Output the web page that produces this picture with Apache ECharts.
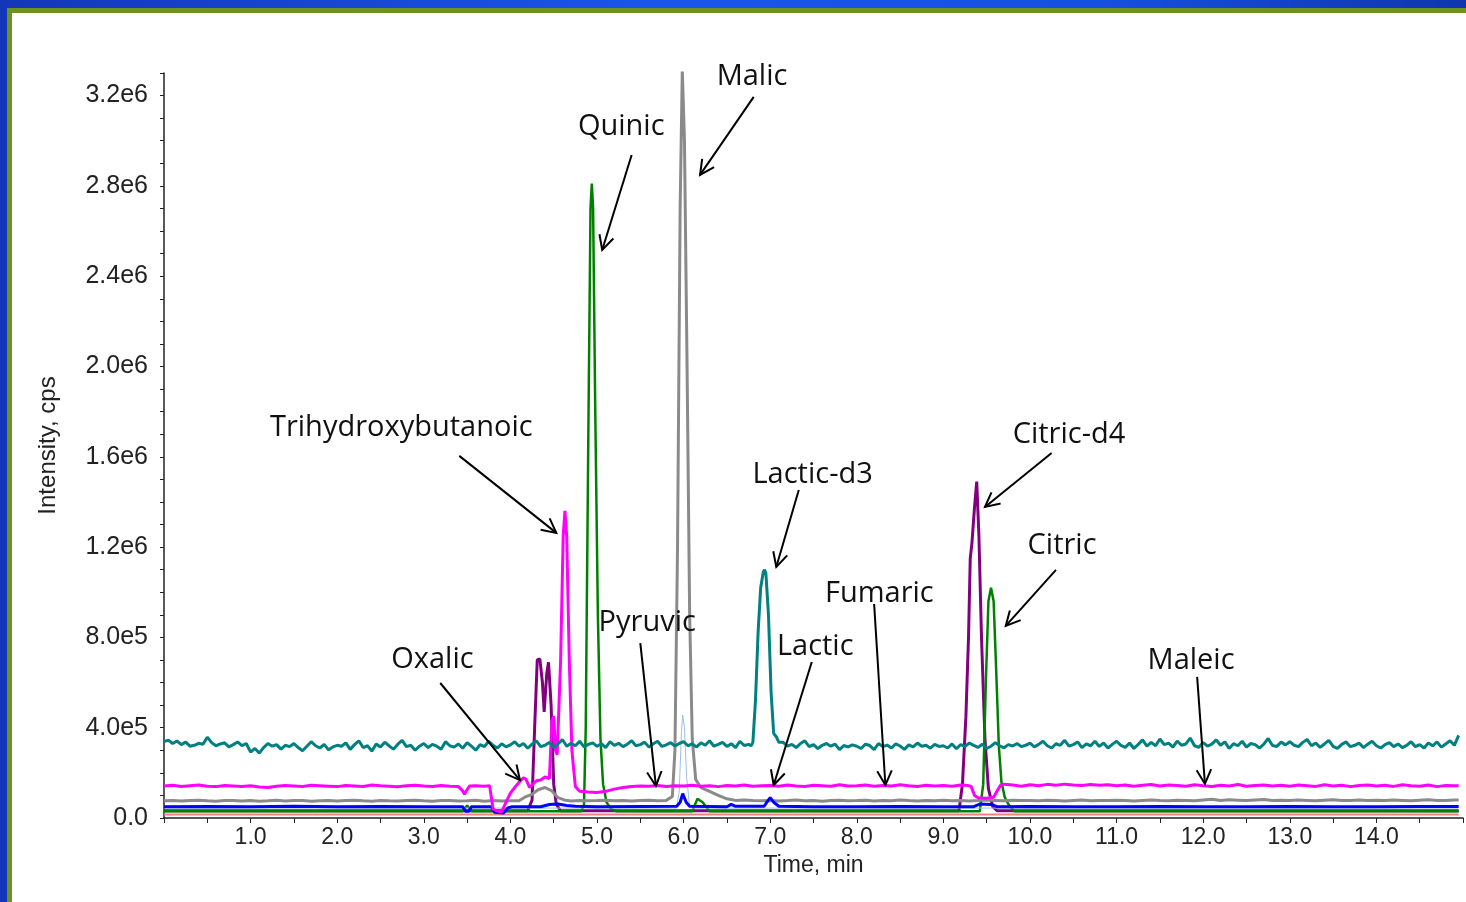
<!DOCTYPE html>
<html>
<head>
<meta charset="utf-8">
<script src="https://cdn.jsdelivr.net/npm/echarts@6/dist/echarts.min.js"></script>
<style>
html,body{margin:0;padding:0;width:1466px;height:902px;overflow:hidden;}
body{background:linear-gradient(90deg,#1437b9 0%,#1a56ea 45%,#1650e0 75%,#0f36ad 100%);}
#olive{position:absolute;left:7px;top:8px;right:0;bottom:0;background:#6f931f;}
#white{position:absolute;left:12px;top:13px;right:0;bottom:0;background:#ffffff;}
#chart{position:absolute;left:0;top:0;width:1466px;height:902px;}
</style>
</head>
<body>
<div id="olive"></div>
<div id="white"></div>
<div id="chart"></div>
<script>
// ---------------- DATA (intensity in kcps, time in min) ----------------
// Teal (Lactic-d3 trace) baseline, every 0.05 min from 0.00
const tealBase = [
338,345,330,341,325,336,318,322,331,327,358,334,320,328,333,315,325,337,321,330,
292,308,288,312,330,318,325,305,322,316,330,312,298,318,338,320,310,326,302,315,
322,318,333,304,325,342,312,320,296,328,315,336,319,305,327,344,316,322,300,318,
330,312,326,318,305,338,320,314,328,309,334,318,300,325,316,340,322,310,329,315,
324,338,318,330,309,327,342,316,322,335,312,328,348,318,331,320,340,315,326,333,
318,329,312,338,322,331,316,327,342,320,325,336,314,329,340,317,324,334,319,330,
338,320,328,315,333,322,342,318,326,335,317,329,312,340,321,326,332,315,325,320,
338,330,322,335,318,326,312,330,342,316,325,307,322,330,318,327,303,321,315,324,
318,308,327,321,303,330,316,323,310,328,319,304,324,315,332,318,322,309,326,317,
320,310,328,307,325,317,332,322,313,327,308,318,334,320,311,325,319,330,316,322,
332,315,326,340,320,310,329,322,344,318,325,337,312,328,320,340,317,332,310,326,
340,322,313,332,308,326,346,318,335,320,350,325,332,314,341,322,328,354,320,313,
334,318,327,346,322,337,308,329,320,340,314,330,325,310,327,352,321,317,336,324,
338,322,316,335,348,320,332,313,328,344,317,308,326,337,316,322,332,312,327,340,
320,310,325,334,316,328,312,322,338,316,325,310,332,320,337,314,328,342,322,366
];
const tealPeak = [[6.78,320],[6.80,335],[6.83,520],[6.86,820],[6.89,1020],[6.92,1090],[6.935,1100],[6.95,1085],[6.98,900],[7.01,560],[7.04,375],[7.07,360],[7.10,335]];

// Magenta (Trihydroxybutanoic / Oxalic / Pyruvic / Fumaric / Maleic trace), every 0.1 min
const magentaBase = [
142,145,140,143,146,141,139,144,142,140,
143,137,135,141,144,142,140,145,143,141,
139,144,142,140,146,143,141,138,143,145,
142,140,144,141,139,143,143,141,142,140,
140,142,140,142,140,142,140,142,140,142,
140,142,140,142,140,142,141,144,140,143,
142,145,141,143,139,144,142,146,141,143,
144,141,146,142,140,145,143,141,147,142,
143,146,141,144,142,147,143,140,145,142,
144,141,146,143,145,142,140,144,146,141,
147,143,149,145,150,146,144,148,145,147,
143,146,141,145,148,142,146,144,141,147,
143,140,145,142,148,141,144,146,142,145,
141,146,143,140,147,142,145,139,144,146,
142,145,140,147,143,141,146,139,144,143
];
const magentaDip = [[3.42,142],[3.45,120],[3.47,105],[3.50,125],[3.53,142]];
const magentaPeaks = [[3.76,143],[3.78,140],[3.80,40],[3.85,30],[3.90,28],[3.95,70],[4.00,110],[4.05,135],[4.10,158],[4.15,178],[4.18,172],[4.22,135],[4.26,150],[4.30,165],[4.35,168],[4.40,182],[4.45,175],[4.48,430],[4.50,450],[4.52,300],[4.54,280],[4.58,700],[4.61,1250],[4.63,1360],[4.65,1250],[4.68,700],[4.71,300],[4.75,140],[4.80,118],[4.90,115],[5.00,113],[5.10,118],[5.20,128],[5.30,135],[5.40,140],[5.50,142]];
const magentaCitric = [[9.28,144],[9.32,140],[9.36,100],[9.40,90],[9.50,88],[9.58,92],[9.62,120],[9.66,145],[9.70,150]];

// Grey (Malic trace), every 0.1 min
const greyBase = [
76,78,75,77,79,76,74,77,78,75,
77,74,76,79,75,77,78,74,76,78,
75,77,79,76,74,78,76,75,77,79,
76,74,77,78,75,76,79,74,77,75,
76,78,75,77,79,76,77,75,78,76,
77,79,76,78,75,77,79,76,78,77,
80,78,76,79,77,75,78,80,77,76,
78,75,77,80,76,78,74,77,79,76,
77,79,75,78,76,80,77,75,78,76,
79,76,78,75,77,80,78,76,79,77,
78,76,79,77,75,78,80,76,78,77,
79,77,75,78,80,77,76,79,78,76,
80,83,78,81,79,77,80,82,78,79,
77,80,78,76,79,81,78,77,80,78,
79,77,80,78,76,79,81,78,77,80
];
const greyBump = [[4.10,76],[4.18,95],[4.25,105],[4.32,125],[4.40,135],[4.48,120],[4.55,90],[4.62,80]];
const greyMalic = [[5.82,80],[5.87,95],[5.90,300],[5.93,1200],[5.96,2700],[5.985,3310],[6.01,3000],[6.04,2000],[6.07,900],[6.10,350],[6.14,170],[6.20,135],[6.30,118],[6.40,100],[6.50,85],[6.60,78]];

// Light blue thin trace, every 1 min
const lightBase = [44,44,44,44,44,44,44,44,44,44,44,44,44,44,44];
const lightPeak = [[5.92,44],[5.95,120],[5.975,380],[5.99,456],[6.01,400],[6.035,180],[6.07,50],[6.10,44]];

// Green (Quinic / Citric trace), every 1 min
const greenBase = [30,30,30,30,30,30,30,30,30,30,30,30,30,30,30];
const greenSmall = [[3.45,30],[3.50,55],[3.55,30]];
const greenQuinic = [[4.82,30],[4.85,60],[4.87,400],[4.90,1700],[4.925,2700],[4.94,2810],[4.955,2700],[4.98,1800],[5.01,900],[5.04,350],[5.07,150],[5.11,70],[5.16,40],[5.22,30]];
const greenBump = [[6.10,30],[6.16,85],[6.22,70],[6.30,30]];
const greenCitric = [[9.42,30],[9.46,150],[9.49,600],[9.52,960],[9.55,1020],[9.58,960],[9.61,650],[9.64,320],[9.67,160],[9.71,90],[9.76,55],[9.82,30]];

// Purple (twin early peaks / Citric-d4 trace), every 1 min
const purpleBase = [32,32,32,32,32,32,32,32,32,32,32,32,32,32,32];
const purpleTwin = [[4.20,32],[4.25,80],[4.28,400],[4.31,700],[4.34,705],[4.37,600],[4.39,470],[4.42,640],[4.44,690],[4.47,500],[4.50,150],[4.53,60],[4.58,32]];
const purpleCitricD4 = [[9.18,32],[9.22,150],[9.26,450],[9.29,800],[9.31,1150],[9.33,1220],[9.36,1380],[9.385,1490],[9.41,1250],[9.44,800],[9.48,350],[9.52,130],[9.57,50],[9.62,32]];

// Blue (Lactic trace), every 0.5 min
const blueBase = [50,51,50,52,50,51,50,50,51,50,50,51,50,50,51,50,50,51,50,50,51,50,50,51,50,50,51,50,50,51];
const blueSegs = [
  [[3.45,50],[3.48,30],[3.52,30],[3.55,50]],
  [[3.78,50],[3.82,25],[3.92,22],[3.97,45],[4.02,50]],
  [[4.35,50],[4.45,60],[4.55,62],[4.65,55],[4.75,52]],
  [[5.92,52],[5.96,70],[5.99,108],[6.03,70],[6.07,52]],
  [[6.50,50],[6.55,60],[6.60,52]],
  [[6.93,52],[6.97,75],[7.00,90],[7.04,70],[7.10,52]],
  [[9.35,50],[9.42,62],[9.55,60],[9.62,50]]
];

// Salmon bottom trace, every 1 min
const salmonBase = [16,16,16,16,16,16,16,16,16,16,16,16,16,16,16];

// Peak labels and their placement (time, kcps)
const peakLabels = ['Malic','Quinic','Trihydroxybutanoic','Oxalic','Pyruvic','Lactic-d3','Lactic','Fumaric','Citric-d4','Citric','Maleic'];
const labelLayout = [
  {text:[6.79,3285], from:[6.81,3194], to:[6.19,2849]},
  {text:[5.28,3063], from:[5.40,2937], to:[5.06,2516]},
  {text:[2.74,1730], from:[3.41,1604], to:[4.53,1263]},
  {text:[3.10,702],  from:[3.19,598],  to:[4.11,168]},
  {text:[5.58,866],  from:[5.50,775],  to:[5.68,142]},
  {text:[7.49,1522], from:[7.33,1453], to:[7.07,1112]},
  {text:[7.52,760],  from:[7.48,691],  to:[7.04,146]},
  {text:[8.26,995],  from:[8.20,948],  to:[8.33,146]},
  {text:[10.45,1699],from:[10.25,1617],to:[9.48,1378]},
  {text:[10.37,1207],from:[10.30,1099],to:[9.72,851]},
  {text:[11.86,698], from:[11.93,625], to:[12.02,151]}
];

// ---------------- BUILD ----------------
function build(step, base, segs) {
  let pts = base.map((v, i) => [Math.round(i * step * 1000) / 1000, v]);
  segs.forEach(seg => {
    const a = seg[0][0], b = seg[seg.length - 1][0];
    pts = pts.filter(p => p[0] < a || p[0] > b).concat(seg);
  });
  pts.sort((p, q) => p[0] - q[0]);
  return pts.map(p => [p[0], p[1] * 1000]);
}
function endAt(pts, t) {
  const last = pts[pts.length - 1];
  if (last[0] < t) pts.push([t, last[1]]);
  return pts;
}
const T_END = 14.95;
const traces = [
  {color:'#f08080', width:2,   data:endAt(build(1, salmonBase, []), T_END)},
  {color:'#800080', width:3,   data:endAt(build(1, purpleBase, [purpleTwin, purpleCitricD4]), T_END)},
  {color:'#008000', width:2.5, data:endAt(build(1, greenBase, [greenSmall, greenQuinic, greenBump, greenCitric]), T_END)},
  {color:'#8a8a8a', width:3,   data:endAt(build(0.1, greyBase, [greyBump, greyMalic]), T_END)},
  {color:'#9fbfe3', width:1,   data:endAt(build(1, lightBase, [lightPeak]), T_END)},
  {color:'#0000ff', width:3,   data:endAt(build(0.5, blueBase, blueSegs), T_END)},
  {color:'#ff00ff', width:3,   data:endAt(build(0.1, magentaBase, [magentaDip, magentaPeaks, magentaCitric]), T_END)},
  {color:'#008080', width:3,   data:build(0.05, tealBase, [tealPeak])}
];

const chart = echarts.init(document.getElementById('chart'), null, {renderer:'canvas'});
const labelFont = '"Liberation Sans", Arial, sans-serif';
const option = {
  backgroundColor: 'transparent',
  animation: false,
  grid: {left:164, right:1, top:73, bottom:84, containLabel:false},
  xAxis: {
    type:'value', min:0, max:15, interval:0.5,
    name:'Time, min', nameLocation:'middle', nameGap:33,
    nameTextStyle:{fontFamily:labelFont, fontSize:23, color:'#222'},
    axisLine:{show:true, onZero:false, lineStyle:{color:'#222', width:1.5}},
    axisTick:{show:true, inside:false, length:5, lineStyle:{color:'#222', width:1}},
    axisLabel:{
      margin:8, fontFamily:labelFont, fontSize:23, color:'#222',
      formatter: v => (Math.abs(v - Math.round(v)) < 1e-6 && v >= 1 && v <= 14) ? v.toFixed(1) : ''
    },
    splitLine:{show:false}
  },
  yAxis: {
    type:'value', min:0, max:3300000, interval:100000,
    name:'Intensity, cps', nameLocation:'middle', nameGap:104, nameRotate:90,
    nameTextStyle:{fontFamily:labelFont, fontSize:24, color:'#222'},
    axisLine:{show:true, onZero:false, lineStyle:{color:'#222', width:1.5}},
    axisTick:{show:true, inside:false, length:4, lineStyle:{color:'#222', width:1}},
    axisLabel:{
      margin:16, fontFamily:labelFont, fontSize:25, color:'#222',
      formatter: v => {
        const k = Math.round(v / 100000);
        if (k % 4 !== 0) return '';
        if (k === 0) return '0.0';
        return v < 1e6 ? (v / 1e5).toFixed(1) + 'e5' : (v / 1e6).toFixed(1) + 'e6';
      }
    },
    splitLine:{show:false}
  },
  series: traces.map(tr => ({
    type:'line', data:tr.data, showSymbol:false, symbol:'none', smooth:false,
    clip:true, lineStyle:{color:tr.color, width:tr.width}, itemStyle:{color:tr.color},
    emphasis:{disabled:true}
  }))
};
chart.setOption(option);

// annotations (text + open-headed arrows), positioned through the chart's own scales
const px = p => chart.convertToPixel({gridIndex:0}, [p[0], p[1] * 1000]);
const graphics = [];
const HEAD = 16, ANG = 27 * Math.PI / 180;
peakLabels.forEach((name, i) => {
  const L = labelLayout[i];
  const tp = px(L.text), a = px(L.from), b = px(L.to);
  graphics.push({type:'text', z:100, style:{text:name, x:tp[0], y:tp[1], fill:'#111',
    font:'29px "Open Sans", Lato, sans-serif', textAlign:'center', textVerticalAlign:'middle'}});
  graphics.push({type:'polyline', z:100, shape:{points:[a, b]}, style:{stroke:'#000', lineWidth:2, fill:null}});
  const ang = Math.atan2(a[1] - b[1], a[0] - b[0]);
  const h1 = [b[0] + HEAD * Math.cos(ang + ANG), b[1] + HEAD * Math.sin(ang + ANG)];
  const h2 = [b[0] + HEAD * Math.cos(ang - ANG), b[1] + HEAD * Math.sin(ang - ANG)];
  graphics.push({type:'polyline', z:100, shape:{points:[h1, b, h2]}, style:{stroke:'#000', lineWidth:2, fill:null}});
});
chart.setOption({graphic: graphics});
</script>
</body>
</html>
